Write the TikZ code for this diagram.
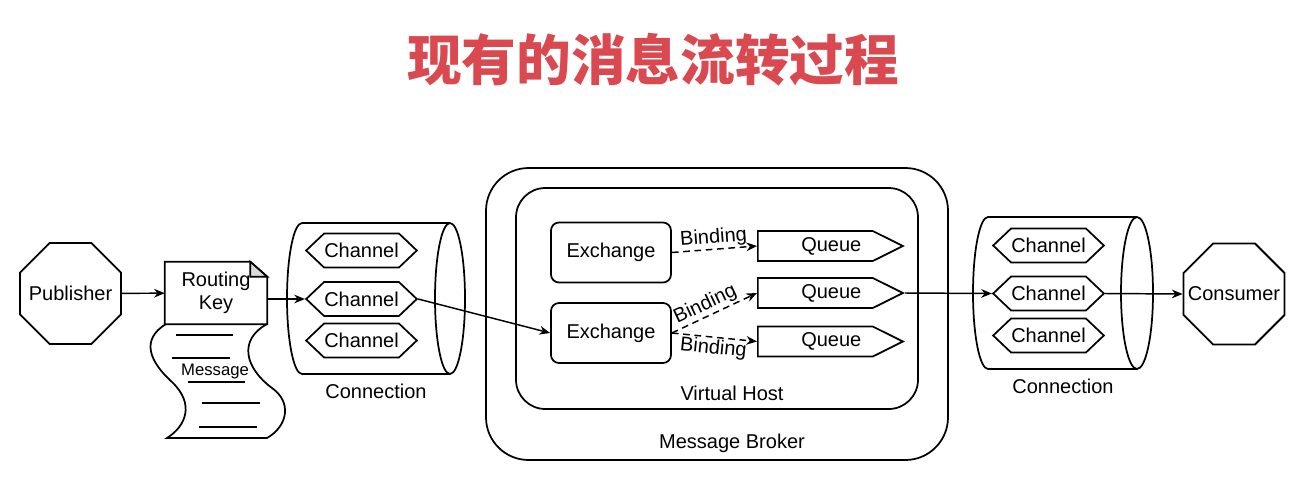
\documentclass[tikz,border=0pt]{standalone}
\usepackage{fontspec}
\setsansfont{Liberation Sans}
\newfontfamily\cjk{Noto Sans CJK SC}
\usetikzlibrary{shapes.geometric, shapes.symbols, arrows.meta, positioning}
\definecolor{titlered}{RGB}{218,72,80}

\begin{document}
\begin{tikzpicture}[
        x=0.75pt, y=-0.75pt,
        font=\sffamily\fontsize{15}{17}\selectfont,
        octa/.style={
            regular polygon,
            regular polygon sides=8,
            draw,
            line width=1.4pt,
            minimum size=82pt,
            inner sep=0pt
        },
        chan/.style={
            signal,
            signal to=east and west,
            draw,
            fill=white,
            line width=1.3pt,
            minimum width=83pt,
            minimum height=25.5pt,
            signal pointer angle=87,
            inner sep=0pt
        },
        queuebox/.style={
            signal,
            signal to=east,
            draw,
            anchor=west,
            line width=1.3pt,
            minimum width=108.75pt,
            minimum height=22.5pt,
            signal pointer angle=53,
            inner sep=0pt
        },
        qlabel/.style={
            xshift=12pt,
            inner sep=0pt
        },
        exch/.style={
            rectangle,
            rounded corners=6pt,
            draw,
            line width=1.3pt,
            minimum width=90pt,
            minimum height=45pt
        },
        box/.style={
            draw,
            line width=1.3pt
        },
        shapeline/.style={
            line width=1.3pt
        },
        arrow/.style={
            line width=1.1pt,
            -{Stealth[length=8pt, width=6.5pt]}
        },
        rel/.style={
            arrow,
            dash pattern=on 5pt off 3.5pt
        },
        bindlbl/.style={
            sloped,
            inner sep=1pt
        }
    ]

    \useasboundingbox (0,0) rectangle (1306,500);

    % Title
    \node (title) [text=titlered, font=\cjk\bfseries\fontsize{41}{41}\selectfont] at (653,60) {现有的消息流转过程};

    % Publisher and message
    \node (pub) [octa] at (70.5,293.5) {\makebox[0pt]{Publisher}};

    \draw[shapeline, fill=white] (166,324) .. controls (140,340) and (150,362) .. (172,382)
        .. controls (195,404) and (186,426) .. (167,438) -- (267,438)
        .. controls (288,426) and (292,402) .. (272,388)
        .. controls (245,368) and (238,340) .. (267,324);
    \draw[shapeline] (176,335) -- (233,335);
    \draw[shapeline] (172,358) -- (230,358);
    \draw[shapeline] (188,382) -- (245,382);
    \draw[shapeline] (202,403) -- (260,403);
    \draw[shapeline] (199,427) -- (257,427);
    \node (msg) [font=\sffamily\fontsize{12.5}{14}\selectfont, inner sep=0pt] at (215,371) {Message};

    \node (rkey) [minimum width=76.5pt, minimum height=46.5pt, align=center] at (216,293) {Routing\\Key};
    \draw[shapeline, fill=white] (rkey.north west) -- ([xshift=-12.75pt]rkey.north east)
        -- ([yshift=-11.25pt]rkey.north east) -- (rkey.south east) -- (rkey.south west) -- cycle;
    \draw[shapeline, fill=black!15] ([xshift=-12.75pt]rkey.north east) -- ([xshift=-12.75pt, yshift=-11.25pt]rkey.north east)
        -- ([yshift=-11.25pt]rkey.north east) -- cycle;
    \node at (rkey) [align=center] {Routing\\Key};

    % Left connection
    \draw[shapeline] (450,223) -- (302,223) arc[start angle=90, end angle=270, x radius=11.25pt, y radius=56.625pt] -- (450,374);
    \draw[shapeline, fill=white] (450,298.5) ellipse[x radius=11.25pt, y radius=56.625pt];
    \node (chL1) [chan] at (361.5,250.5) {Channel};
    \node (chL2) [chan] at (361.5,299) {Channel};
    \node (chL3) [chan] at (361.5,340.5) {Channel};
    \node (connL) at (376,391) {Connection};

    % Broker and virtual host
    \node (broker) [box, rounded corners=32pt, minimum width=346.5pt, minimum height=219pt] at (717,314) {};
    \node (vhost) [box, rounded corners=22pt, minimum width=301.5pt, minimum height=165.75pt] at (717,298.5) {};
    \node (brokerlbl) at (732,443) {Message Broker};
    \node (vhostlbl) at (732,393) {Virtual Host};

    \node (ex1) [exch] at (611,252.5) {Exchange};
    \node (ex2) [exch] at (611,333) {Exchange};
    \node (q1) [queuebox, label={[qlabel]center:Queue}] at (757,246) {};
    \node (q2) [queuebox, label={[qlabel]center:Queue}] at (757,293) {};
    \node (q3) [queuebox, label={[qlabel]center:Queue}] at (757,341.5) {};

    % Right connection
    \draw[shapeline] (1137,217) -- (988,217) arc[start angle=90, end angle=270, x radius=11.25pt, y radius=57pt] -- (1137,369);
    \draw[shapeline, fill=white] (1137,293) ellipse[x radius=12pt, y radius=57pt];
    \node (chR1) [chan] at (1048.5,245.5) {Channel};
    \node (chR2) [chan] at (1048.5,293.5) {Channel};
    \node (chR3) [chan] at (1048.5,335.5) {Channel};
    \node (connR) at (1063,386) {Connection};

    % Consumer
    \node (cons) [octa] at (1234,294) {\makebox[0pt]{Consumer}};

    % Flow
    \draw [arrow] (pub) -- (rkey);
    \draw [arrow] (rkey.east |- chL2.west) -- (chL2.west);
    \draw [arrow] (chL2.east) -- (ex2.west);
    \draw [arrow] (q2.east) -- (chR2.west);
    \draw [arrow] (chR2.east) -- (cons.west);

    % Bindings
    \draw [rel] (ex1.east) -- node[above, bindlbl] {Binding} (q1.west);
    \draw [rel] (ex2.east) -- node[above, bindlbl, pos=0.45] {Binding} (q2.west);
    \draw [rel] (ex2.east) -- node[below, bindlbl] {Binding} (q3.west);

\end{tikzpicture}
\end{document}
